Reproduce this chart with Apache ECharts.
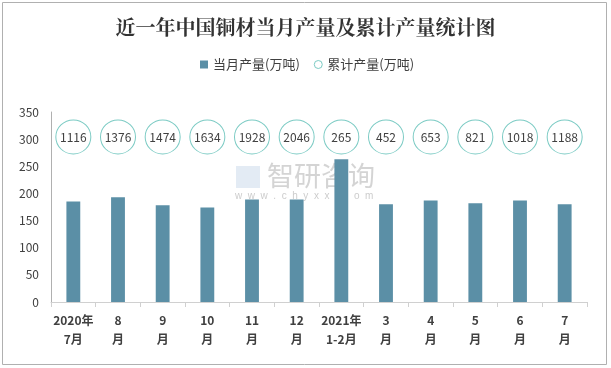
<!DOCTYPE html>
<html><head><meta charset="utf-8">
<script src="https://cdn.jsdelivr.net/npm/echarts@6/dist/echarts.min.js"></script>
<style>html,body{margin:0;padding:0;background:#fff}#c{width:611px;height:368px}</style>
</head><body><div id="c"></div>
<script>
var categories = ['2020年\n7月','8\n月','9\n月','10\n月','11\n月','12\n月','2021年\n1-2月','3\n月','4\n月','5\n月','6\n月','7\n月'];
var monthly = [185, 193, 178, 174, 189, 189, 263, 180, 187, 182, 187, 180];
var cumulative = [1116, 1376, 1474, 1634, 1928, 2046, 265, 452, 653, 821, 1018, 1188];
var yTicks = [0, 50, 100, 150, 200, 250, 300, 350];
var circleRow = 304;

var chart = echarts.init(document.getElementById('c'));
chart.setOption({
  backgroundColor: '#fff',
  animation: false,
  textStyle: {fontFamily: '"Noto Sans CJK SC", "Noto Sans", sans-serif'},
  title: {
    text: '近一年中国铜材当月产量及累计产量统计图',
    left: 'center', top: 12,
    textStyle: {fontSize: 20, fontWeight: 'bold', color: '#333', fontFamily: '"Noto Serif CJK SC","Noto Sans CJK SC", serif'}
  },
  legend: {
    top: 53, left: 195, itemGap: 14, itemWidth: 8, itemHeight: 8,
    textStyle: {fontSize: 13, color: '#404040'},
    data: [
      {name: '当月产量(万吨)', icon: 'rect'},
      {name: '累计产量(万吨)', icon: 'circle', itemStyle: {color: '#fff', borderColor: '#7ccbc4', borderWidth: 1}}
    ]
  },
  graphic: [
    {type: 'rect', shape: {x: 2.5, y: 2.5, width: 604, height: 362}, style: {fill: 'none', stroke: '#b0b0b0', lineWidth: 1}, z: 100},
    {type: 'text', left: 267, top: 162, style: {text: '智研咨询', fontSize: 27, fill: 'rgba(170,170,170,0.5)', fontFamily: '"Noto Sans CJK SC"'}, z: 0},
    {type: 'text', left: 235, top: 191, style: {text: 'w  w  w  .  c  h  y  x  x  .  c  o  m', fontSize: 10, fill: 'rgba(170,170,170,0.6)'}, z: 0},
    {type: 'rect', left: 236, top: 166, shape: {width: 24, height: 22}, style: {fill: 'rgba(185,205,228,0.4)'}, z: 0}
  ],
  grid: {left: 51, right: 24, top: 112, bottom: 66},
  xAxis: {
    type: 'category', data: categories,
    axisLine: {lineStyle: {color: '#d0d0d0'}},
    axisTick: {show: true, length: 5, lineStyle: {color: '#d0d0d0'}},
    axisLabel: {fontSize: 12, fontWeight: 'bold', color: '#404040', lineHeight: 19, margin: 9, interval: 0}
  },
  yAxis: {
    type: 'value', min: 0, max: 350, interval: 50,
    axisLine: {show: true, lineStyle: {color: '#b0b0b0'}},
    axisTick: {show: false},
    splitLine: {show: false},
    axisLabel: {fontSize: 12, color: '#404040', margin: 12}
  },
  series: [
    {
      name: '当月产量(万吨)', type: 'bar', data: monthly, barWidth: '31%',
      itemStyle: {color: '#5b8fa6'}
    },
    {
      name: '累计产量(万吨)', type: 'scatter',
      data: cumulative.map(function (v, i) { return {value: [i, circleRow], cum: v}; }),
      symbol: 'circle', symbolSize: [35, 34],
      itemStyle: {color: '#fff', borderColor: '#7ccbc4', borderWidth: 1, opacity: 1},
      label: {show: true, position: 'inside', fontSize: 12, color: '#404040',
        formatter: function (p) { return cumulative[p.dataIndex]; }},
      z: 5
    }
  ]
});
</script></body></html>
